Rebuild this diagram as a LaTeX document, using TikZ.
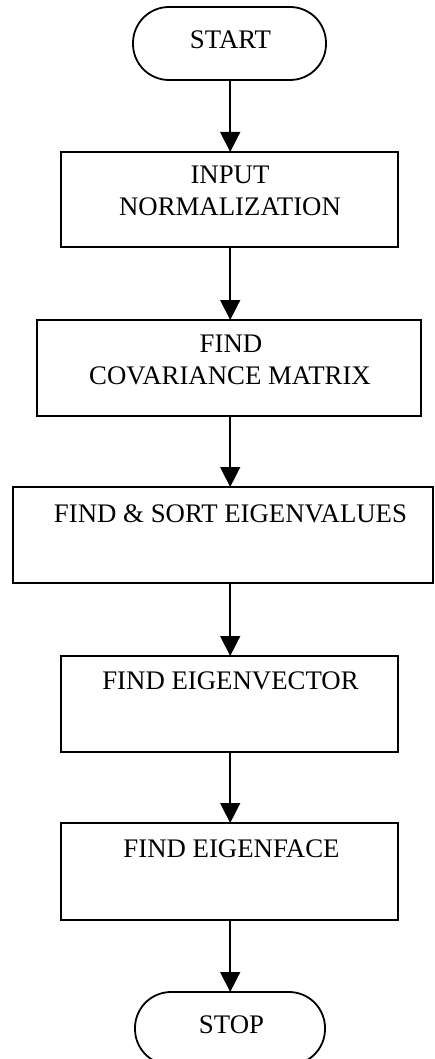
\documentclass[tikz,border=0pt]{standalone}
\usepackage{fontspec}
\setmainfont{Liberation Serif}
\usetikzlibrary{arrows.meta}
\begin{document}
\begin{tikzpicture}[x=1pt,y=-1pt,
  box/.style={draw,line width=1.8pt,rectangle,inner sep=0pt,outer sep=0pt},
  term/.style={draw,line width=1.8pt,rectangle,rounded corners=36pt,inner sep=0pt,outer sep=0pt},
  lbl/.style={anchor=base,inner sep=0pt,font=\fontsize{26.8}{32}\selectfont},
  arr/.style={line width=1.5pt,-{Triangle[width=20pt,length=20pt]}}]
\useasboundingbox (0,0) rectangle (434,1059);
\coordinate (ax) at (230.2,0);
\node[term,minimum width=193pt,minimum height=73pt] (start) at (229.5,43.5) {};
\node[box,minimum width=337pt,minimum height=95pt] (b1) at (229.5,199.5) {};
\node[box,minimum width=384pt,minimum height=96pt] (b2) at (229,368) {};
\node[box,minimum width=420pt,minimum height=96pt] (b3) at (223,535) {};
\node[box,minimum width=337pt,minimum height=96pt] (b4) at (229.5,704) {};
\node[box,minimum width=337pt,minimum height=97pt] (b5) at (229.5,871.5) {};
\node[term,minimum width=190pt,minimum height=73pt] (stop) at (230,1028.5) {};
\node[lbl] (t0) at (230.5,49) {START};
\node[lbl] (t1a) at (230,184) {INPUT};
\node[lbl] (t1b) at (230,216) {NORMALIZATION};
\node[lbl] (t2a) at (231,352) {FIND};
\node[lbl] (t2b) at (230,384) {COVARIANCE MATRIX};
\node[lbl] (t3) at (230.5,522) {FIND \& SORT EIGENVALUES};
\node[lbl] (t4) at (230.5,689) {FIND EIGENVECTOR};
\node[lbl] (t5) at (231.5,857) {FIND EIGENFACE};
\node[lbl] (t6) at (231.5,1033) {STOP};
\draw[arr] (start.south -| ax) -- (b1.north -| ax);
\draw[arr] (b1.south -| ax) -- (b2.north -| ax);
\draw[arr] (b2.south -| ax) -- (b3.north -| ax);
\draw[arr] (b3.south -| ax) -- (b4.north -| ax);
\draw[arr] (b4.south -| ax) -- (b5.north -| ax);
\draw[arr] (b5.south -| ax) -- (stop.north -| ax);
\end{tikzpicture}
\end{document}
